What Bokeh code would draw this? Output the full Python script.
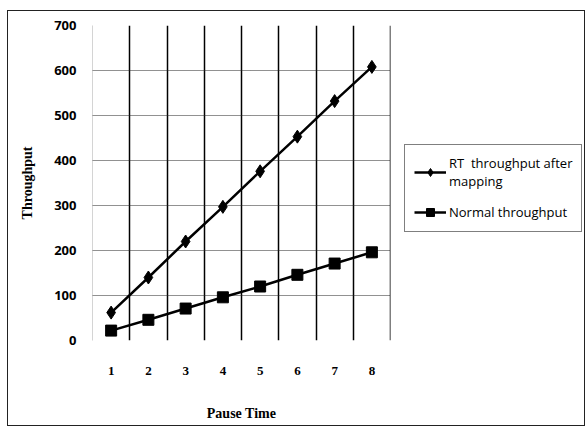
from bokeh.plotting import figure
from bokeh.layouts import row
from bokeh.models import Legend, LegendItem, FixedTicker, Range1d
from bokeh.embed import file_html
from bokeh.resources import INLINE

pause_time = [1, 2, 3, 4, 5, 6, 7, 8]
rt_throughput = [62, 140, 220, 297, 376, 453, 532, 608]
normal_throughput = [22, 46, 71, 96, 120, 146, 171, 196]
y_ticks = [0, 100, 200, 300, 400, 500, 600, 700]
series_labels = ["RT  throughput after\nmapping", "Normal throughput"]

p = figure(width=394, height=414, output_backend="svg", toolbar_location=None,
           x_range=Range1d(0.5, 8.5), y_range=Range1d(0, 700),
           min_border_left=84, min_border_right=12, min_border_top=14, min_border_bottom=85)
p.outline_line_color = None
p.background_fill_color = "white"

# grids
p.xgrid.ticker = FixedTicker(ticks=[1.5 + i for i in range(7)])
p.xgrid.grid_line_color = "black"
p.xgrid.grid_line_width = 1.5
p.ygrid.ticker = FixedTicker(ticks=y_ticks)
p.ygrid.grid_line_color = "#222222"
p.ygrid.grid_line_dash = "1 1"
p.ygrid.grid_line_width = 1
p.segment(x0=[8.5], y0=[0], x1=[8.5], y1=[700], line_color="black", line_width=1.5)
p.segment(x0=[0.5], y0=[0], x1=[0.5], y1=[700], line_color="#555555", line_width=1, line_dash="1 1")

# axes
p.xaxis.ticker = FixedTicker(ticks=pause_time)
p.yaxis.ticker = FixedTicker(ticks=y_ticks)
for ax in (p.xaxis[0], p.yaxis[0]):
    ax.axis_line_color = None
    ax.major_tick_line_color = None
    ax.minor_tick_line_color = None
    ax.major_label_text_color = "black"
    ax.axis_label_text_color = "black"
p.xaxis.major_label_text_font = "Liberation Serif"
p.xaxis.major_label_text_font_style = "bold"
p.xaxis.major_label_text_font_size = "13px"
p.xaxis.major_label_standoff = 20
p.yaxis.major_label_text_font = "Open Sans"
p.yaxis.major_label_text_font_style = "bold"
p.yaxis.major_label_text_font_size = "13px"
p.yaxis.major_label_standoff = 10
p.xaxis.axis_label = "Pause Time"
p.yaxis.axis_label = "Throughput"
for ax in (p.xaxis[0], p.yaxis[0]):
    ax.axis_label_text_font = "Liberation Serif"
    ax.axis_label_text_font_style = "bold"
    ax.axis_label_text_font_size = "14px"
p.xaxis.axis_label_standoff = 28
p.yaxis.axis_label_standoff = 16

p.line(pause_time, rt_throughput, line_color="black", line_width=2.5)
p.scatter(pause_time, rt_throughput, marker="diamond", size=13, color="black")
p.line(pause_time, normal_throughput, line_color="black", line_width=2.5)
p.scatter(pause_time, normal_throughput, marker="square", size=11, color="black")

# legend panel (its sample glyphs sit outside the visible range)
p2 = figure(width=182, height=414, output_backend="svg", toolbar_location=None,
            x_range=Range1d(0, 1), y_range=Range1d(0, 1),
            min_border=0)
p2.outline_line_color = None
p2.axis.visible = False
p2.grid.visible = False
l1 = p2.line([5, 6], [5, 6], line_color="black", line_width=2.5)
m1 = p2.scatter([5], [5], marker="diamond", size=11, color="black")
l2 = p2.line([5, 6], [5, 6], line_color="black", line_width=2.5)
m2 = p2.scatter([5], [5], marker="square", size=10, color="black")

legend = Legend(items=[
    LegendItem(label=series_labels[0], renderers=[l1, m1]),
    LegendItem(label=series_labels[1], renderers=[l2, m2]),
], location=(2, 108))
legend.border_line_color = "black"
legend.border_line_width = 1
legend.label_text_font = "Open Sans"
legend.label_text_font_size = "13px"
legend.label_text_line_height = 1.5
legend.label_text_color = "black"
legend.glyph_width = 32
legend.label_standoff = 3
legend.spacing = 12
legend.padding = 9
legend.margin = 0
p2.add_layout(legend)

layout = row(p, p2, styles={"border": "1px solid #222", "margin": "10px 0px 0px 7px"})

open("out.html", "w").write(file_html(layout, INLINE))
